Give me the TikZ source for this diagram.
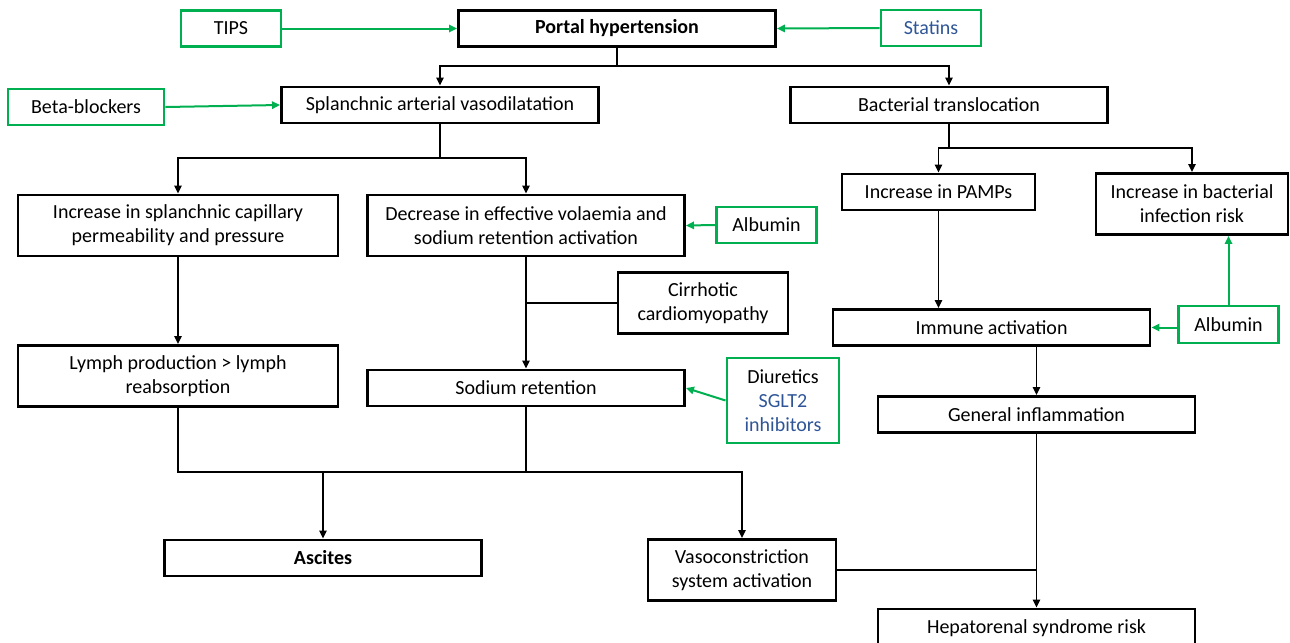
\documentclass[tikz,border=0pt]{standalone}
\usepackage{fontspec}
\setmainfont{Carlito}
\usetikzlibrary{arrows.meta,positioning}
\definecolor{druggreen}{RGB}{0,176,80}
\definecolor{drugblue}{RGB}{47,85,151}

\begin{document}
\begin{tikzpicture} [
    x=0.75pt, y=-0.75pt,
    every node/.style={font=\fontsize{15}{18}\selectfont, align=center, inner sep=0pt},
    box/.style={rectangle, draw=black, line width=2.2pt, minimum width=237.75pt, minimum height=27pt},
    tallbox/.style={box, minimum height=45.75pt},
    drug/.style={rectangle, draw=druggreen, line width=2.2pt, minimum width=75pt, minimum height=27pt},
    link/.style={line width=1.2pt, draw=black},
    cure/.style={line width=1.5pt, draw=druggreen},
    >={Triangle[length=6pt,width=5.5pt]}
    ]
    \useasboundingbox (0,0) rectangle (1290,643);
    %Nodes
    \node[box, font=\fontsize{15}{18}\bfseries] (portal) at (617,28.5) {Portal hypertension};
    \node[drug]      (tips)     at (231,28.5)  {TIPS};
    \node[drug, text=drugblue] (statins) at (931,28) {Statins};
    \node[box]       (splanch)  at (440,105) {Splanchnic arterial vasodilatation};
    \node[drug, minimum width=117pt] (beta) at (86,107) {Beta-blockers};
    \node[box]       (bact)     at (949,105)   {Bacterial translocation};
    \node[tallbox, minimum width=240pt] (perm) at (178,225.5) {Increase in splanchnic capillary\\permeability and pressure};
    \node[tallbox]   (volaem)   at (526,225.5) {Decrease in effective volaemia and\\sodium retention activation};
    \node[drug]      (alb1)     at (766.5,225) {Albumin};
    \node[box, minimum width=144.75pt] (pamps) at (938.5,192) {Increase in PAMPs};
    \node[tallbox, minimum width=144pt] (infect) at (1192,204) {Increase in bacterial\\infection risk};
    \node[tallbox, minimum width=127.5pt] (cardio) at (703,303) {Cirrhotic\\cardiomyopathy};
    \node[box]       (immune)   at (991.5,327.5) {Immune activation};
    \node[drug, minimum height=27.75pt] (alb2) at (1228.5,324.5) {Albumin};
    \node[tallbox, minimum width=240pt] (lymph) at (178,376) {Lymph production > lymph\\reabsorption};
    \node[box]       (sodium)   at (526,388) {Sodium retention};
    \node[drug, minimum width=84pt, minimum height=63.75pt] (diur) at (783,400.5)
        {Diuretics\\\textcolor{drugblue}{SGLT2}\\\textcolor{drugblue}{inhibitors}};
    \node[box]       (general)  at (1036.5,414.5) {General inflammation};
    \node[box, font=\fontsize{15}{18}\bfseries] (ascites) at (323,558) {Ascites};
    \node[tallbox, minimum width=141pt] (vaso) at (742,570) {Vasoconstriction\\system activation};
    \node[box, minimum height=28.5pt] (hepato) at (1036.5,628) {Hepatorenal syndrome risk};
    %Junctions
    \coordinate (j1) at (617,66);
    \coordinate (j2) at (440,158);
    \coordinate (j3) at (949,148);
    \coordinate (j4) at (526,472);
    %Lines
    \draw[link] (portal.south) -- (j1);
    \draw[link,->] (j1) -| (splanch.north);
    \draw[link,->] (j1) -| (bact.north);
    \draw[link] (splanch.south) -- (j2);
    \draw[link,->] (j2) -| (perm.north);
    \draw[link,->] (j2) -| (volaem.north);
    \draw[link] (bact.south) -- (j3);
    \draw[link,->] (j3) -| (pamps.north);
    \draw[link,->] (j3) -| (infect.north);
    \draw[link,->] (perm.south) -- (lymph.north);
    \draw[link,->] (volaem.south) -- (sodium.north);
    \draw[link] (cardio.west) -- (cardio.west -| sodium.north);
    \draw[link] (lymph.south) |- (j4);
    \draw[link] (sodium.south) -- (j4);
    \draw[link,->] (ascites.north |- j4) -- (ascites.north);
    \draw[link,->] (j4) -| (vaso.north);
    \draw[link,->] (pamps.south) -- (pamps.south |- immune.north);
    \draw[link,->] (general.north |- immune.south) -- (general.north);
    \draw[link,->] (general.south) -- (hepato.north);
    \draw[link] (vaso.east) -- (vaso.east -| general.south);
    %Treatments
    \draw[cure,->] (tips.east) -- (portal.west);
    \draw[cure,->] (statins.west) -- (portal.east);
    \draw[cure,->] (beta.east) -- (splanch.west);
    \draw[cure,->] (alb1.west) -- (volaem.east);
    \draw[cure,->] (diur.west) -- (sodium.east);
    \draw[cure,->] (alb2.west |- immune.east) -- (immune.east);
    \draw[cure,->] (alb2.north) -- (alb2.north |- infect.south);
\end{tikzpicture}
\end{document}
